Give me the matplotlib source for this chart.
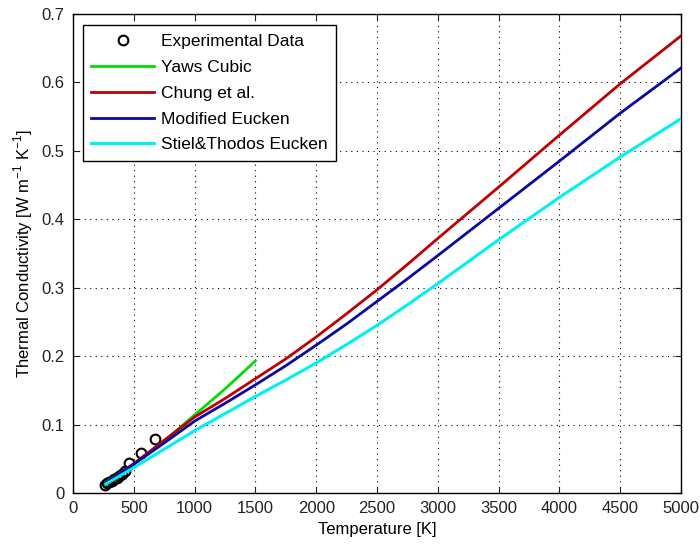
import matplotlib
matplotlib.use("Agg")
import matplotlib.pyplot as plt

plt.rcParams['font.family'] = ['Liberation Sans', 'DejaVu Sans']
plt.rcParams['mathtext.fontset'] = 'custom'
plt.rcParams['mathtext.rm'] = 'Liberation Sans'

# Experimental data
T_exp = [263, 280, 300, 320, 340, 360, 380, 400, 425, 460, 559, 674]
k_exp = [0.0117, 0.014, 0.016, 0.018, 0.020, 0.022, 0.025, 0.028, 0.032, 0.0434, 0.059, 0.0785]

# Yaws cubic (up to 1500 K)
T_yaws = [270, 500, 750, 1000, 1250, 1500]
k_yaws = [0.016, 0.042, 0.076, 0.114, 0.152, 0.193]

# Model curves
T_mod = [270, 500, 750, 1000, 1250, 1500, 1750, 2000, 2250, 2500, 2750, 3000, 3500, 4000, 4500, 5000]
k_chung = [0.015, 0.043, 0.077, 0.111, 0.138, 0.167, 0.196, 0.228, 0.262, 0.297, 0.334, 0.372, 0.447, 0.523, 0.598, 0.668]
k_euck = [0.015, 0.042, 0.073, 0.105, 0.131, 0.158, 0.186, 0.216, 0.247, 0.280, 0.313, 0.347, 0.416, 0.485, 0.555, 0.621]
k_stiel = [0.013, 0.037, 0.064, 0.091, 0.116, 0.141, 0.165, 0.190, 0.217, 0.245, 0.275, 0.306, 0.370, 0.432, 0.491, 0.547]

xticks = [0, 500, 1000, 1500, 2000, 2500, 3000, 3500, 4000, 4500, 5000]
yticks = [0, 0.1, 0.2, 0.3, 0.4, 0.5, 0.6, 0.7]
ytick_labels = ['0', '0.1', '0.2', '0.3', '0.4', '0.5', '0.6', '0.7']

fig = plt.figure(figsize=(7.0, 5.44), dpi=100)
ax = fig.add_axes([0.1043, 0.0938, 0.8686, 0.8805])

ax.plot(T_exp, k_exp, 'o', mfc='none', mec='black', mew=1.5, ms=7, label='Experimental Data', zorder=2)
ax.plot(T_yaws, k_yaws, '-', color='#00dd00', lw=2.0, label='Yaws Cubic', zorder=3)
ax.plot(T_mod, k_chung, '-', color='#c00000', lw=2.0, label='Chung et al.', zorder=3)
ax.plot(T_mod, k_euck, '-', color='#0a0aa0', lw=2.0, label='Modified Eucken', zorder=3)
ax.plot(T_mod, k_stiel, '-', color='#00f0f0', lw=2.2, label='Stiel&Thodos Eucken', zorder=3)

ax.set_xlim(0, 5000)
ax.set_ylim(0, 0.7)
ax.set_xticks(xticks)
ax.set_yticks(yticks)
ax.set_xticklabels([str(t) for t in xticks])
ax.set_yticklabels(ytick_labels)
ax.tick_params(direction='in', length=4, labelsize=12, colors='#222222', top=True, right=True, pad=6)
ax.grid(True, linestyle=(0, (1, 4)), color='black', linewidth=0.8)
for s in ax.spines.values():
    s.set_linewidth(1.0)

ax.set_xlabel('Temperature [K]', fontsize=12, labelpad=4)
ax.set_ylabel('Thermal Conductivity [W m$^{-1}$ K$^{-1}$]', fontsize=12, labelpad=5)

leg = ax.legend(loc='upper left', bbox_to_anchor=(0.016, 0.977), fontsize=12.5, frameon=True,
                fancybox=False, edgecolor='black', framealpha=1, handlelength=3.6,
                handletextpad=0.4, borderpad=0.5, labelspacing=0.62, borderaxespad=0)
leg.get_frame().set_linewidth(1.0)

fig.savefig('out.png', dpi=100)
